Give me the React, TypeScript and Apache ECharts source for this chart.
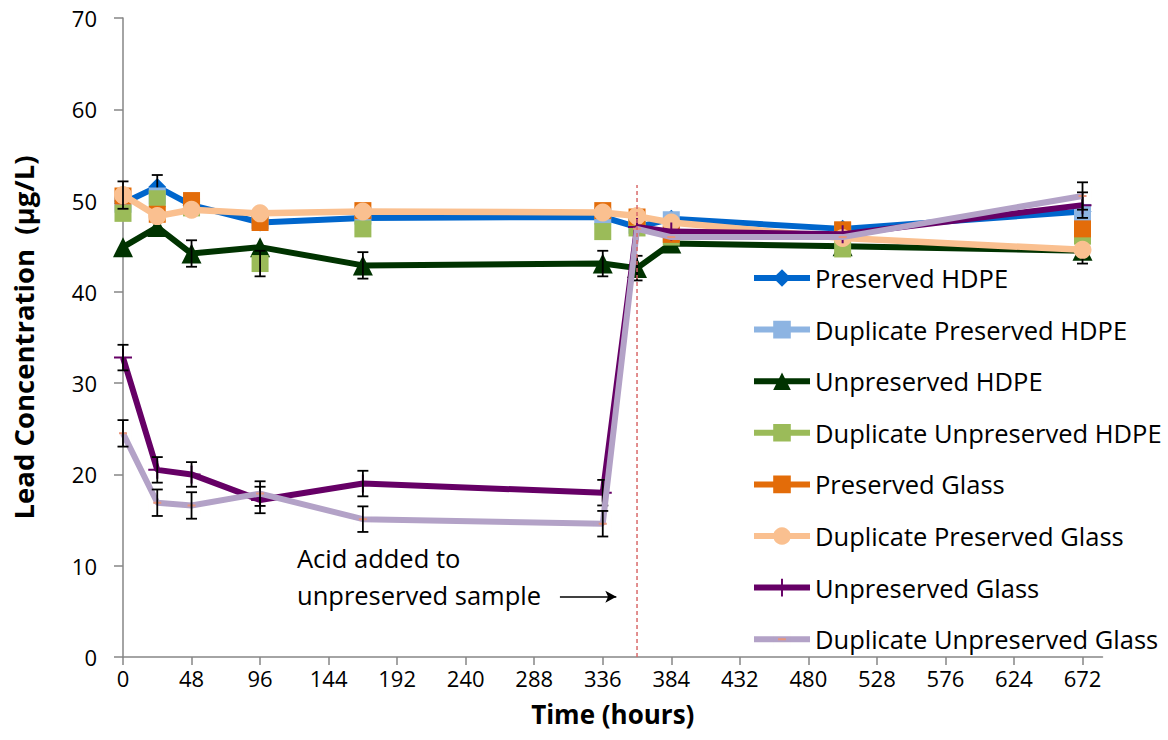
import React, { useEffect, useRef } from "react";
import * as echarts from "echarts";

const HOURS = [0, 24, 48, 96, 168, 336, 360, 384, 504, 672];
const X_TICKS = [0, 48, 96, 144, 192, 240, 288, 336, 384, 432, 480, 528, 576, 624, 672];

const NAMES = [
  "Preserved HDPE",
  "Duplicate Preserved HDPE",
  "Unpreserved HDPE",
  "Duplicate Unpreserved HDPE",
  "Preserved Glass",
  "Duplicate Preserved Glass",
  "Unpreserved Glass",
  "Duplicate Unpreserved Glass",
];

const PRESERVED_HDPE = [49.7, 51.5, 49.5, 47.6, 48.1, 48.2, 47.1, 48.0, 46.9, 48.8];
const DUP_PRESERVED_HDPE = [49.6, 50.5, 49.4, 47.8, 48.3, 48.3, 47.3, 47.9, 46.7, 48.7];
const UNPRESERVED_HDPE = [44.9, 47.1, 44.2, 44.9, 42.9, 43.1, 42.6, 45.3, 45.0, 44.5];
const DUP_UNPRESERVED_HDPE = [48.6, 50.2, 49.2, 43.1, 46.9, 46.6, 47.0, 46.0, 44.7, 46.1];
const PRESERVED_GLASS = [50.5, 48.5, 50.0, 47.6, 48.9, 48.9, 48.2, 46.3, 46.8, 46.9];
const DUP_PRESERVED_GLASS = [50.6, 48.3, 49.0, 48.6, 48.8, 48.7, 48.3, 47.6, 45.9, 44.6];
const UNPRESERVED_GLASS = [32.8, 20.5, 20.0, 17.2, 19.0, 18.0, 47.1, 46.6, 46.3, 49.5];
const DUP_UNPRESERVED_GLASS = [24.5, 16.9, 16.6, 17.9, 15.1, 14.6, 46.9, 46.0, 46.0, 50.5];

const ERR_PRESERVED_HDPE = [0, 1.3, 0, 0, 0, 0, 0, 0, 0, 0];
const ERR_UNPRESERVED_HDPE = [0, 0, 1.45, 0, 1.45, 1.4, 1.35, 0, 0, 1.4];
const ERR_DUP_UNPRESERVED_HDPE = [0, 0, 0, 1.4, 0, 0, 0, 0, 0, 0];
const ERR_DUP_PRESERVED_GLASS = [1.5, 0, 0, 0, 0, 0, 0, 0, 0, 0];
const ERR_UNPRESERVED_GLASS = [1.4, 1.4, 1.35, 1.45, 1.4, 1.4, 0, 0, 0, 1.4];
const ERR_DUP_UNPRESERVED_GLASS = [1.45, 1.45, 1.45, 1.35, 1.4, 1.4, 0, 0, 0, 1.5];

const ACID_LINE = [
  [360, 0],
  [360, 51.7],
];
const ARROW = [
  [306, 6.6],
  [345.5, 6.6],
];

const COLORS = ["#0066CC", "#8DB4E2", "#003300", "#9BBB59", "#E36C09", "#FAC090", "#660066", "#B3A2C7"];
const PLUS = "path://M8,0h2v8h8v2h-8v8h-2v-8h-8v-2h8z";
const DASH = "path://M0,0h0.01v18h-0.01zM18,0h0.01v18h-0.01zM5,8h8v2h-8z";
const FONT = "Open Sans";

function lineSeries(idx: number, values: number[], symbol: any, symbolSize: any, width: number, showLine: boolean, symbolColor?: string) {
  return {
    type: "line",
    name: NAMES[idx],
    z: 2 + idx * 2,
    data: HOURS.map((h, i) => [h, values[i]]),
    symbol,
    symbolSize,
    showAllSymbol: true,
    lineStyle: { color: COLORS[idx], width, opacity: showLine ? 1 : 0 },
    itemStyle: { color: symbolColor || COLORS[idx], borderWidth: 0 },
    emphasis: { disabled: true },
  };
}

function errorSeries(idx: number, values: number[], errs: number[]) {
  const data = HOURS.map((h, i) => [h, values[i] - errs[i], values[i] + errs[i], errs[i]]).filter((d) => d[3] > 0);
  return {
    type: "custom",
    name: NAMES[idx] + " err",
    z: 3 + idx * 2,
    silent: true,
    data,
    encode: { x: 0, y: [1, 2] },
    renderItem: (params: any, api: any) => {
      const x = api.value(0);
      const top = api.coord([x, api.value(2)]);
      const bot = api.coord([x, api.value(1)]);
      const w = 5.5;
      const style = { stroke: "#000", lineWidth: 1.8 };
      return {
        type: "group",
        children: [
          { type: "line", shape: { x1: top[0], y1: top[1], x2: bot[0], y2: bot[1] }, style },
          { type: "line", shape: { x1: top[0] - w, y1: top[1], x2: top[0] + w, y2: top[1] }, style },
          { type: "line", shape: { x1: bot[0] - w, y1: bot[1], x2: bot[0] + w, y2: bot[1] }, style },
        ],
      };
    },
  };
}

export default function App() {
  const ref = useRef<HTMLDivElement>(null);
  useEffect(() => {
    if (!ref.current) return;
    const chart = echarts.init(ref.current, null, { renderer: "svg" });
    const axisColor = "#868686";
    const legendData = NAMES.map((n, i) => ({
      name: n,
      lineStyle: { color: COLORS[i], width: 6, opacity: 1 },
    }));
    const option: any = {
      animation: false,
      backgroundColor: "#fff",
      grid: { left: 123, right: 65.5, top: 18, bottom: 83, containLabel: false },
      legend: {
        orient: "vertical",
        left: 746,
        top: 259,
        itemWidth: 56,
        itemHeight: 22,
        itemGap: 23.6,
        data: legendData,
        textStyle: { fontFamily: FONT, fontSize: 25.5, color: "#000", lineHeight: 28 },
        selectedMode: false,
      },
      xAxis: {
        type: "value",
        min: 0,
        max: 686,
        interval: 48,
        name: "Time (hours)",
        nameLocation: "middle",
        nameGap: 44,
        nameTextStyle: { fontFamily: FONT, fontSize: 26, fontWeight: "bold", color: "#000" },
        axisLine: { show: true, lineStyle: { color: axisColor, width: 1.5 } },
        axisTick: { show: true, length: 8, lineStyle: { color: axisColor, width: 1.5 }, customValues: X_TICKS },
        axisLabel: { fontFamily: FONT, fontSize: 22, color: "#000", margin: 10, customValues: X_TICKS },
        splitLine: { show: false },
      },
      yAxis: {
        type: "value",
        min: 0,
        max: 70,
        interval: 10,
        name: "Lead Concentration  (µg/L)",
        nameLocation: "middle",
        nameGap: 86,
        nameTextStyle: { fontFamily: FONT, fontSize: 27.5, fontWeight: "bold", color: "#000" },
        axisLine: { show: true, lineStyle: { color: axisColor, width: 1.5 } },
        axisTick: { show: true, length: 9, lineStyle: { color: axisColor, width: 1.5 } },
        axisLabel: { fontFamily: FONT, fontSize: 22, color: "#000", margin: 26 },
        splitLine: { show: false },
      },
      graphic: [
        {
          type: "text",
          left: 297,
          top: 539,
          style: {
            text: "Acid added to\nunpreserved sample",
            fontFamily: FONT,
            fontSize: 25.5,
            lineHeight: 37,
            fill: "#000",
          },
        },
      ],
      series: [
        lineSeries(0, PRESERVED_HDPE, "diamond", 18, 6, true),
        errorSeries(0, PRESERVED_HDPE, ERR_PRESERVED_HDPE),
        lineSeries(1, DUP_PRESERVED_HDPE, "rect", 17, 6, false),
        lineSeries(2, UNPRESERVED_HDPE, "triangle", 20, 6, true),
        errorSeries(2, UNPRESERVED_HDPE, ERR_UNPRESERVED_HDPE),
        lineSeries(3, DUP_UNPRESERVED_HDPE, "rect", 17, 6, false),
        errorSeries(3, DUP_UNPRESERVED_HDPE, ERR_DUP_UNPRESERVED_HDPE),
        lineSeries(4, PRESERVED_GLASS, "rect", 17, 6, false),
        lineSeries(5, DUP_PRESERVED_GLASS, "circle", 18, 6.5, true),
        errorSeries(5, DUP_PRESERVED_GLASS, ERR_DUP_PRESERVED_GLASS),
        lineSeries(6, UNPRESERVED_GLASS, PLUS, 18, 6, true),
        errorSeries(6, UNPRESERVED_GLASS, ERR_UNPRESERVED_GLASS),
        lineSeries(7, DUP_UNPRESERVED_GLASS, DASH, 18, 6, true, "#E8957C"),
        errorSeries(7, DUP_UNPRESERVED_GLASS, ERR_DUP_UNPRESERVED_GLASS),
        {
          type: "line",
          name: "acid",
          z: 30,
          data: ACID_LINE,
          symbol: "none",
          silent: true,
          lineStyle: { color: "#D96A6A", width: 1.5, type: [4, 3] },
          markLine: {
            silent: true,
            symbol: ["none", "arrow"],
            symbolSize: [9, 11],
            label: { show: false },
            lineStyle: { color: "#000", width: 1.5, type: "solid" },
            data: [[{ coord: ARROW[0] }, { coord: ARROW[1] }]],
          },
        },
      ],
    };
    chart.setOption(option);
    return () => chart.dispose();
  }, []);
  return <div ref={ref} style={{ position: "fixed", left: 0, top: 0, width: 1168, height: 740, background: "#fff" }} />;
}
